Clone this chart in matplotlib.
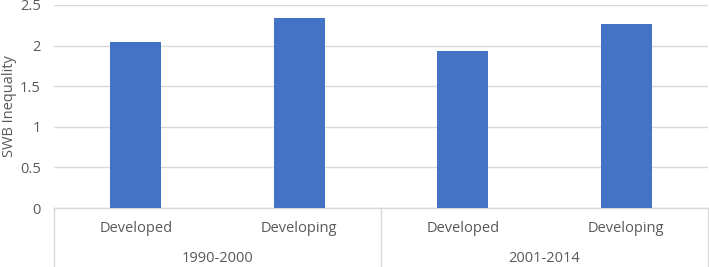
import matplotlib
matplotlib.use("Agg")
import matplotlib.pyplot as plt
from matplotlib.lines import Line2D

categories = ["Developed", "Developing", "Developed", "Developing"]
groups = ["1990-2000", "2001-2014"]
values = [2.04, 2.34, 1.93, 2.27]
yticks = [0, 0.5, 1, 1.5, 2, 2.5]
ytick_labels = ["0", "0.5", "1", "1.5", "2", "2.5"]

plt.rcParams['font.family'] = ['Open Sans', 'DejaVu Sans']
text_color = "#595959"
grid_color = "#d9d9d9"
fs = 10.5

W, H = 709, 267
fig = plt.figure(figsize=(W/100, H/100), dpi=100)
left, right = 54/W, 708/W
bottom, top = (H-208)/H, (H-5)/H
ax = fig.add_axes([left, bottom, right-left, top-bottom])

x = list(range(len(categories)))
ax.bar(x, values, width=0.31, color="#4472C4", zorder=3)
ax.set_xlim(-0.5, len(categories)-0.5)
ax.set_ylim(0, 2.5)
ax.set_yticks(yticks)
ax.set_yticklabels(ytick_labels)
ax.yaxis.grid(True, color=grid_color, linewidth=1.0, zorder=0)
for s in ["top", "right", "left"]:
    ax.spines[s].set_visible(False)
ax.spines["bottom"].set_color(grid_color)
ax.spines["bottom"].set_linewidth(1.0)
ax.tick_params(axis="y", length=0, labelsize=fs, labelcolor=text_color, pad=9.5)
ax.set_xticks([])
ax.set_ylabel("SWB Inequality", fontsize=fs, color=text_color, va="center")
ax.yaxis.set_label_coords(-45/654, 0.5)

trans = ax.get_xaxis_transform()
ax_h_px = 203
def yfrac(px_below):
    return -px_below / ax_h_px
for xi, c in zip(x, categories):
    ax.text(xi, yfrac(20), c, transform=trans, ha="center", va="center",
            fontsize=fs, color=text_color)
for gi, g in enumerate(groups):
    cx = gi*2 + 0.5
    ax.text(cx, yfrac(50), g, transform=trans, ha="center", va="center",
            fontsize=fs, color=text_color)
for xb in [-0.5, 1.5, 3.5]:
    ax.add_line(Line2D([xb, xb], [0, yfrac(60)], transform=trans,
                       color=grid_color, linewidth=1.0, clip_on=False))

fig.savefig("out.png", dpi=100)
